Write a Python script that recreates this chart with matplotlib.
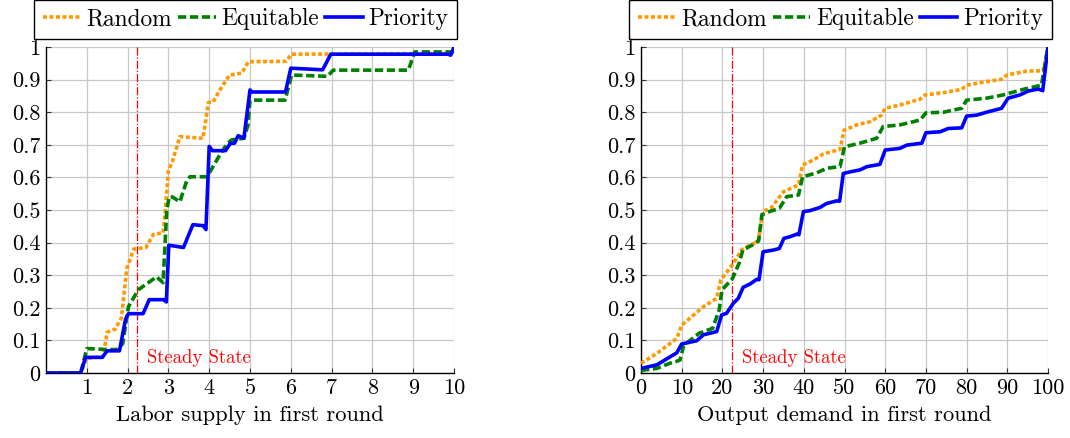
import matplotlib
matplotlib.use("Agg")
import matplotlib.pyplot as plt

plt.rcParams['font.family'] = ['cmr10', 'DejaVu Serif']
plt.rcParams['axes.formatter.use_mathtext'] = True

# Labor supply panel
lab_pri_x = [0, 0.85, 0.97, 1.38, 1.5, 1.8, 1.95, 2.02, 2.38, 2.53, 2.88, 2.95, 3.01, 3.37, 3.6, 3.85, 3.92,
             4.0, 4.08, 4.4, 4.52, 4.62, 4.71, 4.85, 5.0, 5.05, 5.87, 6.0, 6.78, 6.98, 9.85, 9.92, 10]
lab_pri_y = [0, 0, 0.048, 0.048, 0.068, 0.068, 0.165, 0.182, 0.182, 0.225, 0.225, 0.218, 0.392, 0.385, 0.455, 0.452, 0.44,
             0.695, 0.682, 0.682, 0.705, 0.705, 0.728, 0.72, 0.868, 0.862, 0.862, 0.935, 0.93, 0.978, 0.978, 0.975, 1.0]
lab_rnd_x = [0, 0.85, 1.0, 1.4, 1.5, 1.7, 1.85, 1.98, 2.15, 2.45, 2.63, 2.87, 2.92, 3.0, 3.1, 3.28, 3.85,
             3.98, 4.1, 4.26, 4.5, 4.8, 4.96, 5.88, 6.02, 10]
lab_rnd_y = [0, 0, 0.045, 0.05, 0.125, 0.135, 0.17, 0.32, 0.38, 0.385, 0.425, 0.43, 0.49, 0.62, 0.65, 0.725, 0.72,
             0.83, 0.832, 0.868, 0.914, 0.92, 0.955, 0.956, 0.978, 0.98]
lab_eq_x = [0, 0.85, 1.0, 1.5, 1.75, 1.88, 2.02, 2.26, 2.71, 2.87, 2.96, 3.02, 3.1, 3.28, 3.45, 3.53, 3.95,
            4.26, 4.45, 4.55, 4.85, 4.95, 5.0, 5.86, 6.02, 6.9, 7.04, 8.88, 9.04, 10]
lab_eq_y = [0, 0, 0.075, 0.072, 0.072, 0.09, 0.203, 0.255, 0.295, 0.277, 0.5, 0.54, 0.54, 0.525, 0.59, 0.602, 0.602,
            0.669, 0.705, 0.715, 0.72, 0.76, 0.837, 0.837, 0.914, 0.91, 0.929, 0.929, 0.985, 0.985]
lab_steady = 2.23

# Output demand panel
out_pri_x = [0, 3.9, 8.8, 10, 13.7, 15.3, 18.6, 19.8, 21, 22.7, 23.9, 25.1, 26.8, 28.4, 29.0, 30.0, 32.5, 34.0,
             35.1, 36.6, 38.3, 38.8, 39.9, 41.5, 44.0, 45.6, 48.1, 48.8, 49.7, 51.4, 53.8, 55.5, 58.7, 60.0,
             63.6, 65.3, 69.0, 70.0, 73.5, 75.5, 78.8, 80.0, 82.5, 84.9, 88.6, 90.2, 93.1, 95.2, 97.6, 98.7, 100]
out_pri_y = [0.014, 0.025, 0.062, 0.089, 0.099, 0.117, 0.127, 0.178, 0.183, 0.214, 0.229, 0.263, 0.273, 0.287,
             0.286, 0.372, 0.377, 0.382, 0.413, 0.418, 0.426, 0.424, 0.495, 0.498, 0.508, 0.52, 0.528, 0.527,
             0.612, 0.617, 0.623, 0.633, 0.640, 0.684, 0.689, 0.699, 0.705, 0.737, 0.740, 0.750, 0.752, 0.788,
             0.791, 0.80, 0.812, 0.843, 0.853, 0.865, 0.871, 0.866, 1.0]
out_rnd_x = [0, 3.9, 8.8, 10, 12, 15.3, 18.6, 19.6, 22.7, 24.7, 26.8, 28.8, 29.9, 32.1, 35.0, 38.7, 39.7, 42.3,
             44.8, 48.9, 49.9, 53.0, 56.3, 59.1, 60.0, 63.6, 68.6, 69.8, 74.3, 78.8, 80.0, 84.9, 88.6, 89.9,
             94.8, 98.8, 100]
out_rnd_y = [0.03, 0.06, 0.106, 0.147, 0.168, 0.203, 0.229, 0.285, 0.336, 0.377, 0.393, 0.403, 0.495, 0.508,
             0.556, 0.577, 0.638, 0.653, 0.672, 0.686, 0.745, 0.761, 0.771, 0.791, 0.812, 0.822, 0.840, 0.853,
             0.860, 0.870, 0.883, 0.894, 0.901, 0.914, 0.926, 0.927, 1.0]
out_eq_x = [0, 3.9, 7.1, 8.6, 9.6, 10.5, 14.3, 17.6, 19.2, 19.9, 22.5, 24.2, 25.0, 27.4, 28.9, 29.7, 31.5, 34.0,
            35.8, 38.7, 39.7, 43.2, 45.6, 48.9, 50.0, 53.8, 57.9, 59.5, 63.6, 68.6, 70.0, 74.3, 78.8, 80.0,
            84.9, 89.0, 93.9, 98.4, 100]
out_eq_y = [0.008, 0.014, 0.03, 0.035, 0.04, 0.085, 0.122, 0.137, 0.193, 0.255, 0.29, 0.34, 0.377, 0.393, 0.406,
            0.485, 0.495, 0.505, 0.541, 0.546, 0.602, 0.614, 0.628, 0.633, 0.694, 0.705, 0.72, 0.756, 0.761,
            0.776, 0.798, 0.80, 0.812, 0.837, 0.843, 0.853, 0.870, 0.883, 1.0]
out_steady = 22.4

y_ticks = [0, 0.1, 0.2, 0.3, 0.4, 0.5, 0.6, 0.7, 0.8, 0.9, 1]
y_labels = ['0', '0.1', '0.2', '0.3', '0.4', '0.5', '0.6', '0.7', '0.8', '0.9', '1']
lab_ticks = [1, 2, 3, 4, 5, 6, 7, 8, 9, 10]
out_ticks = [0, 10, 20, 30, 40, 50, 60, 70, 80, 90, 100]

ORANGE = '#ff9900'
GREEN = '#008000'
BLUE = '#0000ff'

fig = plt.figure(figsize=(10.7, 4.38), dpi=100)
ax1 = fig.add_axes([46 / 1070, 65 / 438, 408 / 1070, 326 / 438])
ax2 = fig.add_axes([641 / 1070, 65 / 438, 407 / 1070, 326 / 438])

panels = [
    (ax1, lab_rnd_x, lab_rnd_y, lab_eq_x, lab_eq_y, lab_pri_x, lab_pri_y, lab_steady, 10, lab_ticks,
     'Labor supply in first round'),
    (ax2, out_rnd_x, out_rnd_y, out_eq_x, out_eq_y, out_pri_x, out_pri_y, out_steady, 100, out_ticks,
     'Output demand in first round'),
]

for ax, rx, ry, ex, ey, px, py, ss, xmax, xt, xlab in panels:
    ax.plot(rx, ry, color=ORANGE, lw=2.6, linestyle=(0, (1.1, 0.7)), label='Random', zorder=3)
    ax.plot(ex, ey, color=GREEN, lw=2.6, linestyle=(0, (2.3, 1.0)), label='Equitable', zorder=3)
    ax.plot(px, py, color=BLUE, lw=2.6, label='Priority', zorder=4)
    ax.axvline(ss, color='red', lw=0.9, linestyle='-.', zorder=2)
    ax.text(ss + 0.025 * xmax, 0.045, 'Steady State', color='red', fontsize=13.5, va='center', ha='left')

    ax.set_xlim(0, xmax)
    ax.set_ylim(0, 1)
    ax.set_xticks(xt)
    ax.set_xticklabels([str(t) for t in xt])
    ax.set_yticks(y_ticks)
    ax.set_yticklabels(y_labels)
    ax.grid(True, color='#c8c8c8', lw=0.9)
    ax.set_axisbelow(True)
    ax.tick_params(direction='in', length=3.5, width=0.8, colors='#333333', labelsize=16,
                   labelcolor='black', pad=4)
    for s in ['top', 'right']:
        ax.spines[s].set_visible(False)
    for s in ['left', 'bottom']:
        ax.spines[s].set_linewidth(1.0)
    ax.set_xlabel(xlab, fontsize=16.2, labelpad=5)
    ax.legend(loc='lower center', bbox_to_anchor=(0.49, 1.0245), ncol=3, fontsize=16.8, frameon=True,
              fancybox=False, edgecolor='black', framealpha=1, handlelength=1.6, handletextpad=0.26,
              columnspacing=0.26, borderpad=0.37, borderaxespad=0)

fig.savefig('out.png', dpi=100)
